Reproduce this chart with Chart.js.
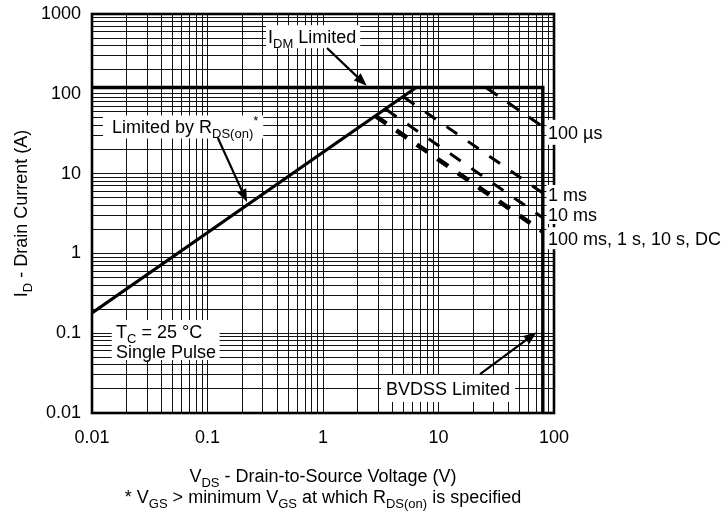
<!DOCTYPE html>
<html><head><meta charset="utf-8">
<script src="https://cdn.jsdelivr.net/npm/chart.js@4"></script>
<style>html,body{margin:0;padding:0;background:#fff}#wrap{width:728px;height:517px;position:relative}</style>
</head><body><div id="wrap"><canvas id="c"></canvas></div>
<script>
// ---- tick labels ----
const xTickValues = [0.01, 0.1, 1, 10, 100];
const xTickLabels = ['0.01', '0.1', '1', '10', '100'];
const yTickValues = [0.01, 0.1, 1, 10, 100, 1000];
const yTickLabels = ['0.01', '0.1', '1', '10', '100', '1000'];

// ---- series (V_DS in V, I_D in A) ----
const rdsV = [0.01, 6.4];
const rdsI = [0.18, 120];
const limitV = [0.01, 80, 80];
const limitI = [120, 120, 0.01];
const us100V = [25.8, 80];
const us100I = [120, 38.7];
const ms1V = [5.0, 80];
const ms1I = [91, 5.7];
const ms10V = [3.5, 80];
const ms10I = [64, 2.8];
const dcV = [2.86, 80];
const dcI = [52.5, 1.87];

const F = '"Liberation Sans", Arial, Helvetica, sans-serif';
const FS = 18, SUB = 13;

const pts = (xs, ys) => xs.map((x, i) => ({x: x, y: ys[i]}));

function gridTicks(decades) {
  const out = [];
  for (let d = 0; d < decades.length; d++) {
    const base = decades[d];
    const last = d === decades.length - 1;
    for (let m = 1; m <= (last ? 1 : 9); m++) {
      out.push({value: Number((m * base).toPrecision(4))});
    }
  }
  return out;
}
function labelFor(values, labels, v) {
  for (let i = 0; i < values.length; i++) {
    if (Math.abs(Math.log10(v) - Math.log10(values[i])) < 1e-6) return labels[i];
  }
  return '';
}

// ---- annotations (positions in data units) ----
const notes = [
  {segs: [['I'], ['DM', 'sub'], [' Limited']], v: 0.334, i: 519, align: 'left', pad: [2, 4, 11.5, 11.5]},
  {segs: [['Limited by R'], ['DS(on)', 'sub'], ['*', 'sup']], v: 0.0149, i: 38.4, align: 'left', pad: [9, 5, 11.5, 11.5]},
  {segs: [['BVDSS Limited']], v: 41.6, i: 0.02, align: 'right', pad: [5, 5, 14, 13]},
  {segs: [['100 µs']], v: 88.7, i: 32.9, align: 'left', pad: [1.5, 3, 12.5, 12.5]},
  {segs: [['1 ms']], v: 88.7, i: 5.4, align: 'left', pad: [1.5, 3, 10, 10]},
  {segs: [['10 ms']], v: 88.7, i: 3.03, align: 'left', pad: [1.5, 3, 10, 9]},
  {segs: [['100 ms, 1 s, 10 s, DC']], v: 88.7, i: 1.55, align: 'left', pad: [1.5, 3, 11, 11]}
];
const tcBlock = {lines: [[['T'], ['C', 'sub'], [' = 25 °C']], [['Single Pulse']]], v: 0.01614, i: [0.1045, 0.0586], pad: [4.3, 3.5, 11.7, 8.3]};
const arrows = [
  {from: [1.083, 375], to: [2.39, 126]},
  {from: [0.123, 27.9], to: [0.22, 4.4]},
  {from: [22.9, 0.0308], to: [70.8, 0.1026]}
];

function segW(ctx, segs) {
  let w = 0;
  for (const s of segs) { ctx.font = (s[1] ? SUB : FS) + 'px ' + F; w += ctx.measureText(s[0]).width; }
  return w;
}
function drawSegs(ctx, segs, x, yMid) {
  const base = yMid + FS * 0.36;
  let cx = x;
  for (const s of segs) {
    ctx.font = (s[1] ? SUB : FS) + 'px ' + F;
    let by = base;
    if (s[1] === 'sub') by = base + 5;
    if (s[1] === 'sup') by = base - 8;
    ctx.fillText(s[0], cx, by);
    cx += ctx.measureText(s[0]).width;
  }
}
function arrow(ctx, x1, y1, x2, y2) {
  const a = Math.atan2(y2 - y1, x2 - x1);
  const L = 13, W = 5;
  ctx.beginPath();
  ctx.moveTo(x1, y1);
  ctx.lineTo(x2 - L * 0.8 * Math.cos(a), y2 - L * 0.8 * Math.sin(a));
  ctx.lineWidth = 2.2;
  ctx.stroke();
  ctx.beginPath();
  ctx.moveTo(x2, y2);
  ctx.lineTo(x2 - L * Math.cos(a) + W * Math.sin(a), y2 - L * Math.sin(a) - W * Math.cos(a));
  ctx.lineTo(x2 - L * Math.cos(a) - W * Math.sin(a), y2 - L * Math.sin(a) + W * Math.cos(a));
  ctx.closePath();
  ctx.fill();
}

const annotPlugin = {
  id: 'annot',
  beforeDatasetsDraw(chart) {
    const ctx = chart.ctx, a = chart.chartArea;
    const xs = chart.scales.x, ys = chart.scales.y;
    ctx.save();
    ctx.strokeStyle = '#000';
    ctx.lineWidth = 2.6;
    ctx.strokeRect(a.left, a.top, a.right - a.left, a.bottom - a.top);
    ctx.fillStyle = '#000';
    ctx.textBaseline = 'alphabetic';
    ctx.textAlign = 'left';
    for (const n of notes) {
      const w = segW(ctx, n.segs);
      let x = xs.getPixelForValue(n.v);
      if (n.align === 'right') x -= w;
      const y = ys.getPixelForValue(n.i);
      ctx.fillStyle = '#fff';
      ctx.fillRect(x - n.pad[0], y - n.pad[2], w + n.pad[0] + n.pad[1], n.pad[2] + n.pad[3]);
      ctx.fillStyle = '#000';
      drawSegs(ctx, n.segs, x, y);
    }
    const tx = xs.getPixelForValue(tcBlock.v);
    const ty = tcBlock.i.map(v => ys.getPixelForValue(v));
    const tw = Math.max(...tcBlock.lines.map(l => segW(ctx, l)));
    ctx.fillStyle = '#fff';
    ctx.fillRect(tx - tcBlock.pad[0], ty[0] - tcBlock.pad[2], tw + tcBlock.pad[0] + tcBlock.pad[1], ty[1] - ty[0] + tcBlock.pad[2] + tcBlock.pad[3]);
    ctx.fillStyle = '#000';
    tcBlock.lines.forEach((l, k) => drawSegs(ctx, l, tx, ty[k]));
    ctx.restore();
  },
  afterDatasetsDraw(chart) {
    const ctx = chart.ctx, a = chart.chartArea;
    const xs = chart.scales.x, ys = chart.scales.y;
    ctx.save();
    ctx.strokeStyle = '#000';
    ctx.fillStyle = '#000';
    for (const ar of arrows) {
      arrow(ctx, xs.getPixelForValue(ar.from[0]), ys.getPixelForValue(ar.from[1]),
                 xs.getPixelForValue(ar.to[0]), ys.getPixelForValue(ar.to[1]));
    }
    const cx = (a.left + a.right) / 2;
    const xt = [['V'], ['DS', 'sub'], [' - Drain-to-Source Voltage (V)']];
    drawSegs(ctx, xt, cx - segW(ctx, xt) / 2, 476);
    const fn = [['* V'], ['GS', 'sub'], [' > minimum V'], ['GS', 'sub'], [' at which R'], ['DS(on)', 'sub'], [' is specified']];
    drawSegs(ctx, fn, cx - segW(ctx, fn) / 2, 496.5);
    const yt = [['I'], ['D', 'sub'], [' - Drain Current (A)']];
    ctx.translate(21, (a.top + a.bottom) / 2);
    ctx.rotate(-Math.PI / 2);
    drawSegs(ctx, yt, -segW(ctx, yt) / 2, 0);
    ctx.restore();
  }
};

const lineDefaults = {showLine: true, pointRadius: 0, borderColor: '#000', fill: false, borderCapStyle: 'butt', tension: 0};

new Chart(document.getElementById('c'), {
  type: 'scatter',
  data: {
    datasets: [
      Object.assign({label: 'Limited by RDS(on)', data: pts(rdsV, rdsI), borderWidth: 3.2}, lineDefaults),
      Object.assign({label: 'IDM / BVDSS Limited', data: pts(limitV, limitI), borderWidth: 3.4, borderJoinStyle: 'miter'}, lineDefaults),
      Object.assign({label: '100 µs', data: pts(us100V, us100I), borderWidth: 3, borderDash: [14, 12]}, lineDefaults),
      Object.assign({label: '1 ms', data: pts(ms1V, ms1I), borderWidth: 3, borderDash: [13, 13]}, lineDefaults),
      Object.assign({label: '10 ms', data: pts(ms10V, ms10I), borderWidth: 3, borderDash: [13, 13]}, lineDefaults),
      Object.assign({label: '100 ms, 1 s, 10 s, DC', data: pts(dcV, dcI), borderWidth: 4.6, borderDash: [13, 12]}, lineDefaults)
    ]
  },
  options: {
    responsive: true,
    maintainAspectRatio: false,
    animation: false,
    devicePixelRatio: 1,
    layout: {padding: {top: 14, right: 174, left: 0, bottom: 0}},
    plugins: {legend: {display: false}, tooltip: {enabled: false}},
    scales: {
      x: {
        type: 'logarithmic', min: 0.01, max: 100,
        afterFit: s => { s.height = 104; s.paddingLeft = 0; s.paddingRight = 0; },
        afterBuildTicks: s => { s.ticks = gridTicks(xTickValues); },
        grid: {color: '#111', lineWidth: 1, drawTicks: false},
        border: {display: false},
        ticks: {autoSkip: false, maxRotation: 0, minRotation: 0, padding: 14, color: '#000',
          font: {family: F, size: 18},
          callback: v => labelFor(xTickValues, xTickLabels, v)}
      },
      y: {
        type: 'logarithmic', min: 0.01, max: 1000,
        afterFit: s => { s.width = 92; s.paddingTop = 0; s.paddingBottom = 0; },
        afterBuildTicks: s => { s.ticks = gridTicks(yTickValues); },
        grid: {color: '#111', lineWidth: 1, drawTicks: false},
        border: {display: false},
        ticks: {autoSkip: false, padding: 11, color: '#000',
          font: {family: F, size: 18},
          callback: v => labelFor(yTickValues, yTickLabels, v)}
      }
    }
  },
  plugins: [annotPlugin]
});
</script>
</body></html>
